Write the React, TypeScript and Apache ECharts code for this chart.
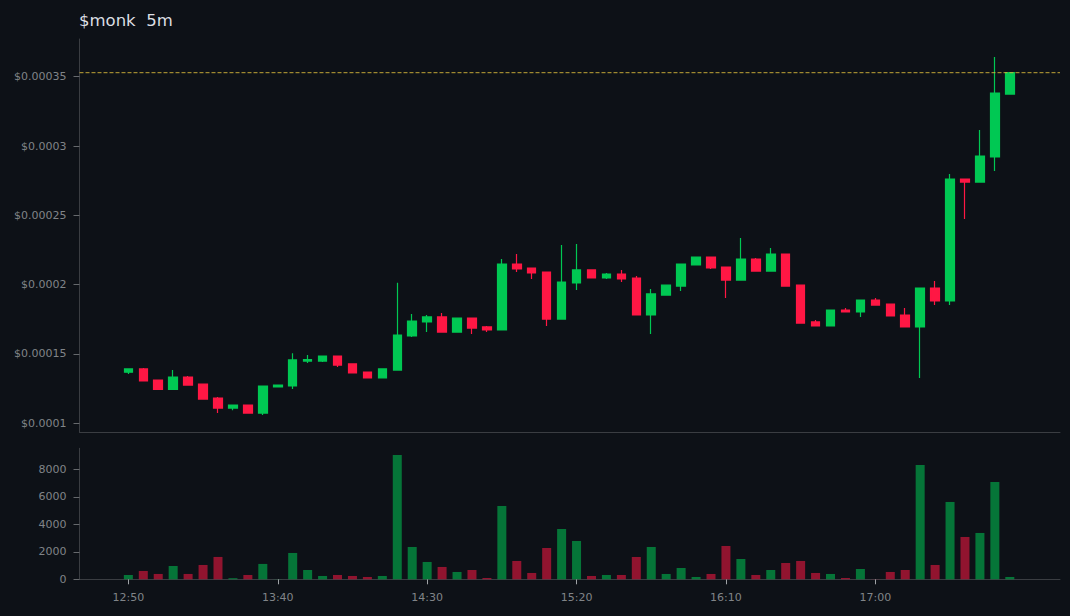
import { useEffect, useRef } from "react";
import * as echarts from "echarts";

const TITLE = "$monk  5m";

const tickIndexes = [0, 10, 20, 30, 40, 50];
const tickLabels = ["12:50", "13:40", "14:30", "15:20", "16:10", "17:00"];
const priceTicks = [0.0001, 0.00015, 0.0002, 0.00025, 0.0003, 0.00035];
const volumeTicks = [0, 2000, 4000, 6000, 8000];
const lastPrice = 0.0003529;

const opens = [
  0.0001368, 0.0001392, 0.0001312, 0.0001245, 0.0001334, 0.0001283, 0.0001182, 0.000111, 0.0001132, 0.0001074,
  0.0001262, 0.0001269, 0.0001449, 0.0001449, 0.0001485, 0.0001428, 0.000137, 0.0001327, 0.0001384, 0.000163,
  0.0001731, 0.0001767, 0.0001658, 0.0001759, 0.0001695, 0.0001673, 0.0002149, 0.000212, 0.0002091, 0.0001752,
  0.0002012, 0.0002106, 0.0002048, 0.0002077, 0.0002048, 0.0001781, 0.0001925, 0.000199, 0.0002142, 0.0002199,
  0.0002127, 0.0002033, 0.0002185, 0.0002098, 0.0002221, 0.0001997, 0.0001731, 0.0001702, 0.0001817, 0.0001803,
  0.0001889, 0.000186, 0.0001781, 0.0001695, 0.0001976, 0.0001882, 0.0002762, 0.000274, 0.0002921, 0.0003375,
];
const closes = [
  0.0001392, 0.0001305, 0.0001245, 0.0001334, 0.0001276, 0.0001175, 0.000111, 0.0001132, 0.0001074, 0.0001269,
  0.0001276, 0.0001457, 0.0001459, 0.0001485, 0.000142, 0.0001363, 0.0001327, 0.0001392, 0.0001637, 0.0001738,
  0.0001767, 0.0001658, 0.0001759, 0.0001687, 0.0001673, 0.0002149, 0.0002113, 0.0002084, 0.0001752, 0.0002019,
  0.0002106, 0.0002048, 0.0002077, 0.0002041, 0.0001781, 0.0001933, 0.0001997, 0.0002149, 0.0002199, 0.000212,
  0.0002033, 0.0002185, 0.0002098, 0.0002221, 0.000199, 0.0001723, 0.0001702, 0.0001817, 0.0001803, 0.0001889,
  0.0001853, 0.0001774, 0.0001695, 0.0001976, 0.0001882, 0.0002762, 0.000274, 0.0002928, 0.0003382, 0.0003529,
];
const lows = [
  0.0001356, 0.0001305, 0.000124, 0.0001245, 0.0001276, 0.0001175, 0.0001074, 0.0001094, 0.0001074, 0.000106,
  0.0001262, 0.0001247, 0.0001435, 0.0001442, 0.0001406, 0.0001363, 0.0001327, 0.0001327, 0.0001384, 0.0001622,
  0.0001658, 0.0001658, 0.0001658, 0.0001644, 0.0001658, 0.0001673, 0.0002091, 0.0002041, 0.0001702, 0.0001752,
  0.0001961, 0.0002048, 0.0002041, 0.0002019, 0.0001781, 0.0001644, 0.0001925, 0.0001954, 0.0002142, 0.0002113,
  0.0001904, 0.0002033, 0.0002098, 0.0002098, 0.000199, 0.0001723, 0.0001702, 0.0001702, 0.0001803, 0.0001767,
  0.0001853, 0.0001774, 0.0001695, 0.0001327, 0.0001853, 0.0001853, 0.0002473, 0.000274, 0.000282, 0.0003375,
];
const highs = [
  0.0001392, 0.0001399, 0.0001312, 0.0001384, 0.0001341, 0.0001283, 0.000119, 0.0001132, 0.0001132, 0.0001269,
  0.0001276, 0.0001505, 0.0001493, 0.0001485, 0.0001485, 0.0001428, 0.000137, 0.0001392, 0.0002014, 0.0001788,
  0.0001781, 0.0001795, 0.0001759, 0.0001759, 0.0001702, 0.0002185, 0.0002221, 0.000212, 0.0002091, 0.0002286,
  0.0002293, 0.0002106, 0.0002084, 0.0002106, 0.0002062, 0.0001969, 0.0001997, 0.0002149, 0.0002199, 0.0002199,
  0.0002127, 0.0002336, 0.0002192, 0.0002264, 0.0002221, 0.0001997, 0.0001745, 0.0001817, 0.0001832, 0.0001889,
  0.0001904, 0.000186, 0.0001832, 0.0001976, 0.0002026, 0.0002798, 0.0002762, 0.0003115, 0.0003642, 0.0003529,
];
const volumes = [
  316, 608, 390, 970, 390, 1045, 1630, 80, 316, 1120,
  10, 1920, 680, 243, 316, 243, 170, 243, 9060, 2357,
  1264, 900, 535, 680, 97, 5346, 1337, 462, 2284, 3669,
  2795, 243, 316, 316, 1628, 2357, 389, 826, 170, 389,
  2430, 1482, 316, 680, 1190, 1337, 462, 389, 97, 753,
  10, 535, 680, 8335, 1045, 5638, 3086, 3378, 7095, 170,
];

const BG = "#0d1117";
const UP = "#00c853";
const DOWN = "#ff1744";
const AXIS_LINE = "#3a3d42";
const AXIS_TEXT = "#808488";
const X_MIN = -3.27;
const X_MAX = 62.36;

export default function App() {
  const chartRef = useRef<HTMLDivElement>(null);

  useEffect(() => {
    if (!chartRef.current) return;
    const chart = echarts.init(chartRef.current, undefined, { renderer: "svg" });

    const candleData = opens.map((o, i) => [i, o, closes[i], lows[i], highs[i]]);
    const volumeData = volumes.map((v, i) => ({
      value: [i, v],
      itemStyle: { color: closes[i] >= opens[i] ? UP : DOWN },
    }));

    const xBase = {
      type: "value" as const,
      min: X_MIN,
      max: X_MAX,
      splitLine: { show: false },
      axisLine: { show: true, onZero: false, lineStyle: { color: AXIS_LINE } },
    };
    const yBase = {
      type: "value" as const,
      scale: true,
      splitLine: { show: false },
      axisLine: { show: true, onZero: false, lineStyle: { color: AXIS_LINE } },
      axisTick: { show: true, length: 6, lineStyle: { color: "#66696d" } },
    };

    chart.setOption({
      animation: false,
      backgroundColor: BG,
      title: {
        text: TITLE,
        left: 74,
        top: 7,
        textStyle: { color: "#dcdfe3", fontFamily: "DejaVu Sans", fontSize: 16.5, fontWeight: 400 },
      },
      grid: [
        { left: 79.5, right: 10, top: 39, height: 393.3 },
        { left: 79.5, right: 10, top: 448.3, height: 131 },
      ],
      xAxis: [
        { ...xBase, gridIndex: 0, axisTick: { show: false }, axisLabel: { show: false } },
        {
          ...xBase,
          gridIndex: 1,
          axisTick: { show: true, length: 5, customValues: tickIndexes, lineStyle: { color: "#a0a3a7" } },
          axisLabel: {
            customValues: tickIndexes,
            color: AXIS_TEXT,
            fontFamily: "DejaVu Sans",
            fontSize: 11,
            margin: 13,
            formatter: (v: number) => tickLabels[tickIndexes.indexOf(v)],
          },
        },
      ],
      yAxis: [
        {
          ...yBase,
          gridIndex: 0,
          min: 0.0000935,
          max: 0.0003772,
          axisTick: { ...yBase.axisTick, customValues: priceTicks },
          axisLabel: {
            customValues: priceTicks,
            color: AXIS_TEXT,
            fontFamily: "DejaVu Sans",
            fontSize: 11,
            margin: 13,
            formatter: (v: number) => `$${v}`,
          },
        },
        {
          ...yBase,
          gridIndex: 1,
          min: 0,
          max: 9550,
          axisTick: { ...yBase.axisTick, customValues: volumeTicks },
          axisLabel: {
            customValues: volumeTicks,
            color: AXIS_TEXT,
            fontFamily: "DejaVu Sans",
            fontSize: 11,
            margin: 13,
            formatter: (v: number) => String(v),
          },
        },
      ],
      series: [
        {
          type: "candlestick",
          xAxisIndex: 0,
          yAxisIndex: 0,
          data: candleData,
          barWidth: 9,
          itemStyle: {
            color: UP,
            color0: DOWN,
            borderColor: UP,
            borderColor0: DOWN,
            borderWidth: 1.2,
          },
        },
        {
          // last price guide
          type: "line",
          xAxisIndex: 0,
          yAxisIndex: 0,
          data: [
            [X_MIN, lastPrice],
            [X_MAX, lastPrice],
          ],
          symbol: "none",
          silent: true,
          lineStyle: { color: "#d4b53a", type: "dashed", width: 1, opacity: 0.9 },
        },
        {
          type: "bar",
          xAxisIndex: 1,
          yAxisIndex: 1,
          data: volumeData,
          barWidth: 9,
          itemStyle: { opacity: 0.55 },
        },
      ],
    });

    return () => chart.dispose();
  }, []);

  return (
    <div
      ref={chartRef}
      style={{ position: "absolute", left: 0, top: 0, width: 1070, height: 616 }}
    />
  );
}
